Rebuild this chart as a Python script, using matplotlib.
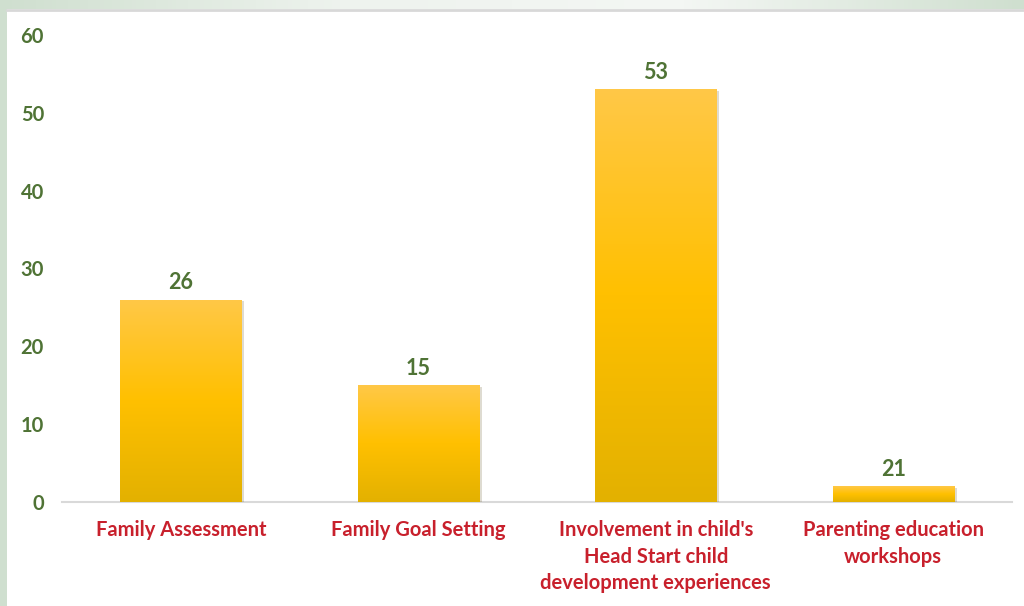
import numpy as np
import matplotlib.pyplot as plt
import matplotlib.patheffects as pe
from matplotlib.colors import LinearSegmentedColormap

categories = ["Family Assessment", "Family Goal Setting",
              "Involvement in child's\nHead Start child\ndevelopment experiences",
              "Parenting education\nworkshops"]
values = [26, 15, 53, 2]
value_labels = ["26", "15", "53", "21"]
yticks = [0, 10, 20, 30, 40, 50, 60]

green = "#4f7335"
red = "#c8202c"
plt.rcParams['font.family'] = ['Lato', 'DejaVu Sans']

fig = plt.figure(figsize=(10.24, 6.06), dpi=100)
fig.patch.set_facecolor("white")

# slide frame: green strip left, gradient strip on top
frame = fig.add_axes([0, 0, 1, 1], zorder=-5)
frame.set_xlim(0, 1024)
frame.set_ylim(606, 0)
frame.axis("off")
strip = LinearSegmentedColormap.from_list("strip", ["#cfdfcf", "#eef3ee", "#f4f7f4", "#cfdfcf"])
frame.imshow(np.linspace(0, 1, 256)[None, :], cmap=strip, aspect="auto",
             extent=[0, 1024, 9, 0])
frame.add_patch(plt.Rectangle((0, 0), 7, 606, color="#cfdfcf", lw=0))
frame.plot([7, 1024], [10, 10], color="#d8d8d8", lw=2)

ax = fig.add_axes([62 / 1024, 104 / 606, 950 / 1024, 467 / 606])
x = np.arange(len(categories))
bars = ax.bar(x, values, width=0.51, color="#ffc000", zorder=3,
              path_effects=[pe.SimplePatchShadow(offset=(2, -1), alpha=0.18), pe.Normal()])

# each bar gets its own vertical gradient, darker at the base
grad = LinearSegmentedColormap.from_list("gold", ["#e3b100", "#ffc000", "#ffc847"])
for b in bars:
    x0, y0, w, h = b.get_x(), b.get_y(), b.get_width(), b.get_height()
    im = ax.imshow(np.linspace(0, 1, 256)[:, None], cmap=grad, origin="lower",
                   aspect="auto", extent=[x0, x0 + w, y0, y0 + h], zorder=4)
    im.set_clip_path(b)

for xi, v, lab in zip(x, values, value_labels):
    ax.text(xi, v + 0.8, lab, ha="center", va="bottom", color=green,
            fontsize=15.5, fontweight="bold")

ax.set_xlim(-0.5, 3.5)
ax.set_ylim(0, 60)
ax.set_yticks(yticks)
ax.set_xticks(x)
ax.set_xticklabels(categories, color=red, fontsize=14.5, fontweight="bold", linespacing=1.42)
for t in ax.get_yticklabels():
    t.set_color(green)
    t.set_fontweight("bold")
    t.set_fontsize(14.5)
ax.tick_params(axis="y", length=0, pad=13)
ax.tick_params(axis="x", length=0, pad=13)
for s in ["top", "right", "left"]:
    ax.spines[s].set_visible(False)
ax.spines["bottom"].set_color("#d9d9d9")
ax.spines["bottom"].set_linewidth(1.5)
ax.set_facecolor("none")

fig.savefig("out.png", dpi=100)
